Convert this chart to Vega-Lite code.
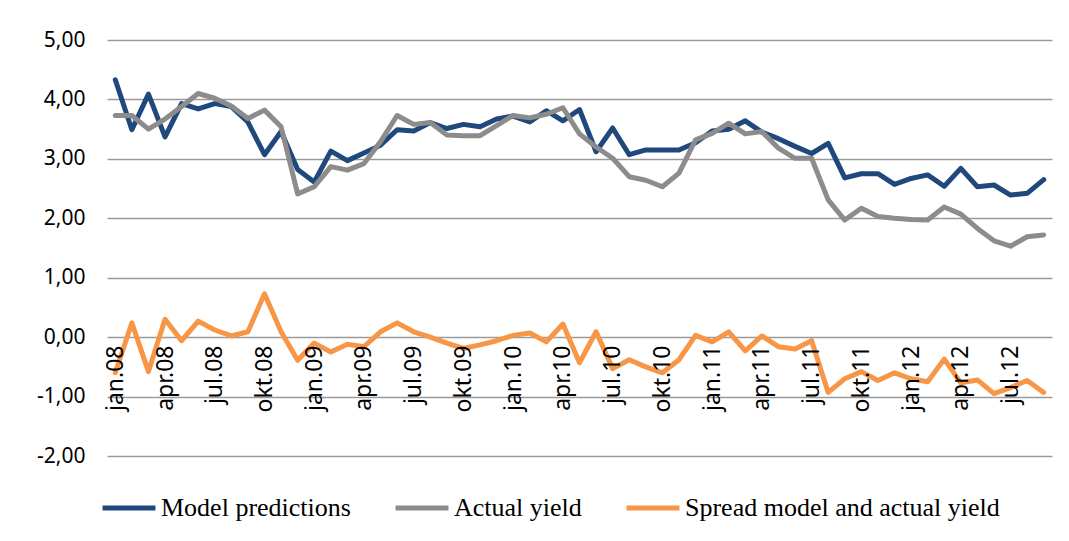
{
  "$schema": "https://vega.github.io/schema/vega-lite/v6.json",
  "autosize": {"type": "none"},
  "width": 945,
  "height": 416,
  "padding": {"left": 107, "top": 40, "right": 17, "bottom": 85},
  "background": "white",
  "config": {"view": {"stroke": null}},
  "data": {"values": [
    {"m":"jan.08","model":4.33,"actual":3.73,"spread":-0.60},
    {"m":"feb.08","model":3.49,"actual":3.73,"spread":0.24},
    {"m":"mar.08","model":4.09,"actual":3.50,"spread":-0.58},
    {"m":"apr.08","model":3.37,"actual":3.67,"spread":0.30},
    {"m":"mai.08","model":3.93,"actual":3.88,"spread":-0.06},
    {"m":"jun.08","model":3.84,"actual":4.10,"spread":0.27},
    {"m":"jul.08","model":3.93,"actual":4.02,"spread":0.12},
    {"m":"aug.08","model":3.88,"actual":3.89,"spread":0.02},
    {"m":"sep.08","model":3.62,"actual":3.68,"spread":0.09},
    {"m":"okt.08","model":3.07,"actual":3.82,"spread":0.73},
    {"m":"nov.08","model":3.46,"actual":3.54,"spread":0.09},
    {"m":"des.08","model":2.82,"actual":2.41,"spread":-0.39},
    {"m":"jan.09","model":2.61,"actual":2.53,"spread":-0.10},
    {"m":"feb.09","model":3.13,"actual":2.87,"spread":-0.25},
    {"m":"mar.09","model":2.97,"actual":2.81,"spread":-0.12},
    {"m":"apr.09","model":3.10,"actual":2.92,"spread":-0.16},
    {"m":"mai.09","model":3.23,"actual":3.29,"spread":0.09},
    {"m":"jun.09","model":3.49,"actual":3.73,"spread":0.24},
    {"m":"jul.09","model":3.47,"actual":3.58,"spread":0.09},
    {"m":"aug.09","model":3.61,"actual":3.61,"spread":0.00},
    {"m":"sep.09","model":3.51,"actual":3.40,"spread":-0.10},
    {"m":"okt.09","model":3.58,"actual":3.39,"spread":-0.19},
    {"m":"nov.09","model":3.54,"actual":3.39,"spread":-0.13},
    {"m":"des.09","model":3.67,"actual":3.56,"spread":-0.06},
    {"m":"jan.10","model":3.72,"actual":3.73,"spread":0.03},
    {"m":"feb.10","model":3.62,"actual":3.69,"spread":0.07},
    {"m":"mar.10","model":3.81,"actual":3.75,"spread":-0.08},
    {"m":"apr.10","model":3.64,"actual":3.86,"spread":0.22},
    {"m":"mai.10","model":3.83,"actual":3.42,"spread":-0.43},
    {"m":"jun.10","model":3.12,"actual":3.20,"spread":0.09},
    {"m":"jul.10","model":3.52,"actual":3.01,"spread":-0.53},
    {"m":"aug.10","model":3.07,"actual":2.70,"spread":-0.38},
    {"m":"sep.10","model":3.15,"actual":2.64,"spread":-0.50},
    {"m":"okt.10","model":3.15,"actual":2.53,"spread":-0.60},
    {"m":"nov.10","model":3.15,"actual":2.76,"spread":-0.38},
    {"m":"des.10","model":3.27,"actual":3.32,"spread":0.03},
    {"m":"jan.11","model":3.47,"actual":3.43,"spread":-0.08},
    {"m":"feb.11","model":3.50,"actual":3.60,"spread":0.09},
    {"m":"mar.11","model":3.64,"actual":3.42,"spread":-0.23},
    {"m":"apr.11","model":3.45,"actual":3.46,"spread":0.02},
    {"m":"mai.11","model":3.34,"actual":3.18,"spread":-0.16},
    {"m":"jun.11","model":3.21,"actual":3.01,"spread":-0.20},
    {"m":"jul.11","model":3.09,"actual":3.01,"spread":-0.06},
    {"m":"aug.11","model":3.26,"actual":2.31,"spread":-0.93},
    {"m":"sep.11","model":2.68,"actual":1.97,"spread":-0.70},
    {"m":"okt.11","model":2.75,"actual":2.17,"spread":-0.58},
    {"m":"nov.11","model":2.75,"actual":2.03,"spread":-0.73},
    {"m":"des.11","model":2.57,"actual":2.00,"spread":-0.60},
    {"m":"jan.12","model":2.67,"actual":1.98,"spread":-0.70},
    {"m":"feb.12","model":2.73,"actual":1.97,"spread":-0.75},
    {"m":"mar.12","model":2.54,"actual":2.19,"spread":-0.37},
    {"m":"apr.12","model":2.84,"actual":2.07,"spread":-0.77},
    {"m":"mai.12","model":2.53,"actual":1.83,"spread":-0.72},
    {"m":"jun.12","model":2.56,"actual":1.62,"spread":-0.95},
    {"m":"jul.12","model":2.39,"actual":1.53,"spread":-0.85},
    {"m":"aug.12","model":2.42,"actual":1.69,"spread":-0.73},
    {"m":"sep.12","model":2.65,"actual":1.72,"spread":-0.93}
  ]},
  "transform": [
    {"fold": ["model", "actual", "spread"], "as": ["key", "value"]},
    {"lookup": "key", "from": {"data": {"values": [
      {"key": "model", "series": "Model predictions"},
      {"key": "actual", "series": "Actual yield"},
      {"key": "spread", "series": "Spread model and actual yield"}
    ]}, "key": "key", "fields": ["series"]}}
  ],
  "mark": {"type": "line", "strokeWidth": 5, "strokeJoin": "round", "strokeCap": "round"},
  "encoding": {
    "x": {
      "field": "m", "type": "ordinal", "sort": null,
      "scale": {"type": "point", "padding": 0.5},
      "axis": {
        "title": null,
        "values": ["jan.08","apr.08","jul.08","okt.08","jan.09","apr.09","jul.09","okt.09","jan.10","apr.10","jul.10","okt.10","jan.11","apr.11","jul.11","okt.11","jan.12","apr.12","jul.12"],
        "offset": -119,
        "domain": false,
        "ticks": false,
        "grid": false,
        "labelAngle": -90,
        "labelFont": "Noto Sans",
        "labelFontSize": 23,
        "labelColor": "#000000",
        "labelPadding": 8,
        "labelOverlap": false,
        "labelLimit": 0,
        "zindex": 1
      }
    },
    "y": {
      "field": "value", "type": "quantitative",
      "scale": {"domain": [-2, 5], "nice": false, "zero": false},
      "axis": {
        "title": null,
        "values": [-2, -1, 0, 1, 2, 3, 4, 5],
        "labelExpr": "(datum.value < 0 ? '-' : '') + replace(format(abs(datum.value), '.2f'), '.', ',')",
        "domain": false,
        "ticks": false,
        "gridColor": "#9a9a9a",
        "gridWidth": 1.5,
        "labelFont": "Noto Sans",
        "labelFontSize": 21,
        "labelColor": "#000000",
        "labelPadding": 22
      }
    },
    "color": {
      "field": "series", "type": "nominal",
      "scale": {
        "domain": ["Model predictions", "Actual yield", "Spread model and actual yield"],
        "range": ["#1f497d", "#8c8c8c", "#f79646"]
      },
      "legend": {
        "title": null,
        "orient": "none",
        "direction": "horizontal",
        "legendX": -7,
        "legendY": 439,
        "symbolType": "stroke",
        "symbolSize": 2800,
        "symbolStrokeWidth": 5,
        "labelFont": "Liberation Serif",
        "labelFontSize": 26,
        "labelLimit": 0,
        "labelColor": "#000000",
        "labelOffset": 3,
        "columnPadding": 34,
        "symbolOffset": 0
      }
    }
  }
}
